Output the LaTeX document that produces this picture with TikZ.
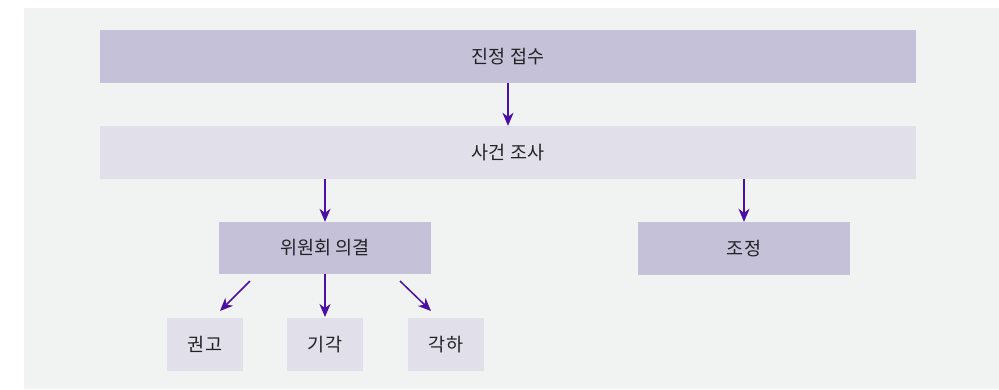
\documentclass[tikz,border=0pt]{standalone}
\usepackage{fontspec}
\setmainfont{Noto Sans CJK KR}
\usetikzlibrary{arrows.meta}
\definecolor{panel}{HTML}{F1F2F2}
\definecolor{darkbox}{HTML}{C5C1D9}
\definecolor{lightbox}{HTML}{E0DFEA}
\definecolor{arrowc}{HTML}{4A0FA3}
\definecolor{txt}{HTML}{222222}
\tikzset{
  boxd/.style={fill=darkbox, draw=none, inner sep=0pt, text=txt, font=\fontsize{18.5}{20}\selectfont},
  boxl/.style={fill=lightbox, draw=none, inner sep=0pt, text=txt, font=\fontsize{18.5}{20}\selectfont},
  conn/.style={draw=arrowc, line width=1.5pt, -{Stealth[length=13pt,width=11pt,inset=4pt]}},
}
\begin{document}
\begin{tikzpicture}[x=1pt,y=-1pt]
\useasboundingbox (0,0) rectangle (999,389);
\fill[white] (0,0) rectangle (999,389);
\fill[panel] (24,8) rectangle (999,389);
\node[boxd, minimum width=816pt, minimum height=53pt] (a) at (508,56.5) {진정 접수};
\node[boxl, minimum width=816pt, minimum height=53pt] (b) at (508,152.5) {사건 조사};
\node[boxd, minimum width=212pt, minimum height=52pt] (c) at (325,248) {위원회 의결};
\node[boxd, minimum width=212pt, minimum height=53pt] (d) at (744,248.5) {조정};
\node[boxl, minimum width=76pt, minimum height=53pt] (e) at (205,344.5) {권고};
\node[boxl, minimum width=76pt, minimum height=53pt] (f) at (325,344.5) {기각};
\node[boxl, minimum width=76pt, minimum height=53pt] (g) at (446,344.5) {각하};
\coordinate (c1) at (250,281);
\coordinate (c3) at (400,281);
\draw[conn] (a.south) -- (b.north);
\draw[conn] (b.south -| c.north) -- (c.north);
\draw[conn] (b.south -| d.north) -- (d.north);
\draw[conn] (c1) -- (220,311);
\draw[conn] (c.south) -- (325,317);
\draw[conn] (c3) -- (431,311);
\end{tikzpicture}
\end{document}
